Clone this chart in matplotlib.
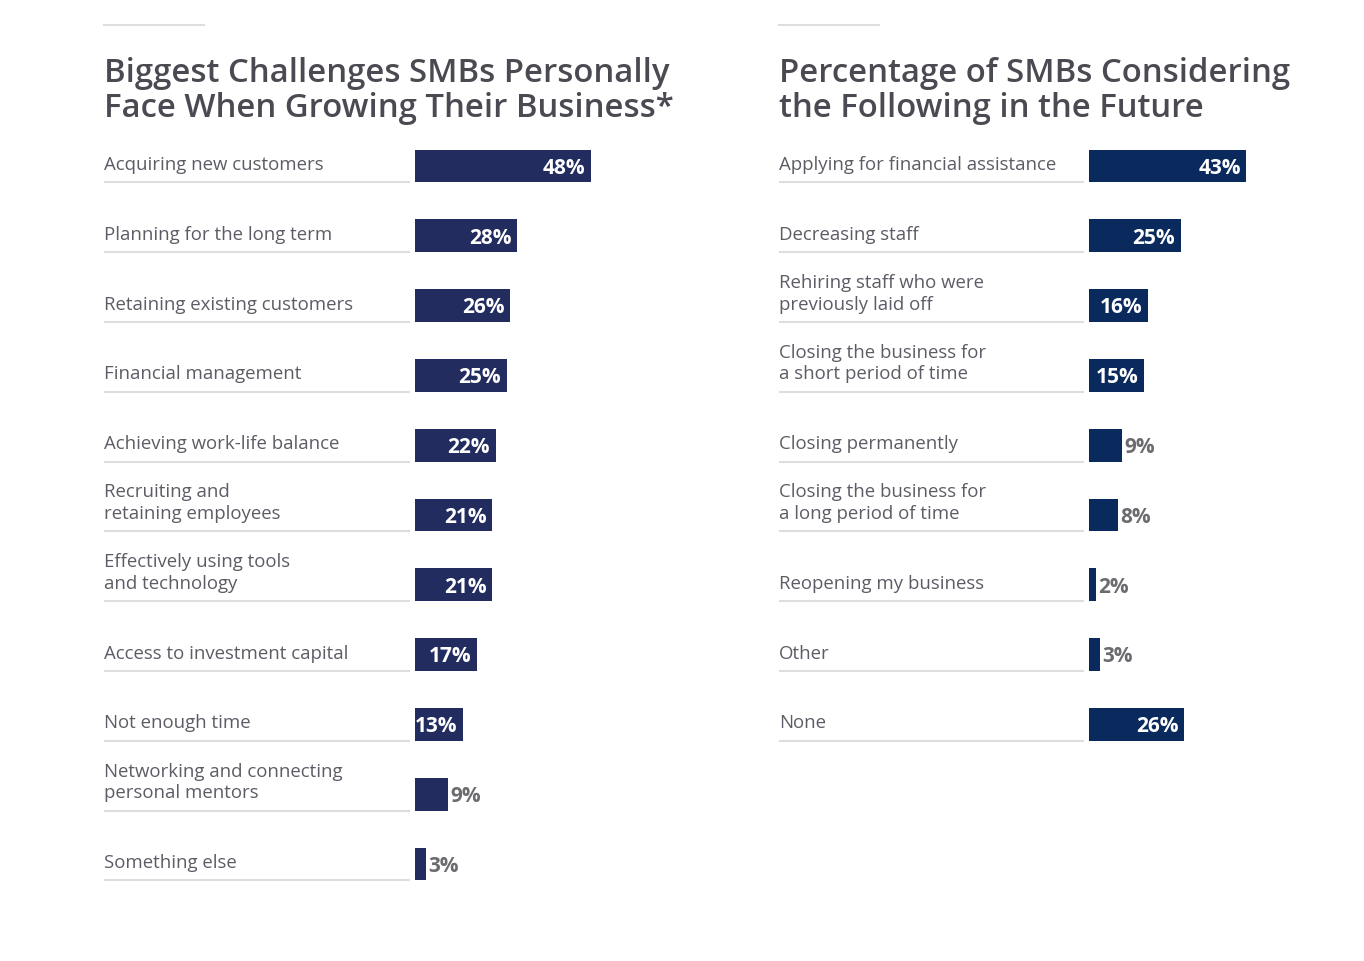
import matplotlib.pyplot as plt
from matplotlib.lines import Line2D

# Data
left_title = "Biggest Challenges SMBs Personally\nFace When Growing Their Business*"
left_labels = [
    "Acquiring new customers",
    "Planning for the long term",
    "Retaining existing customers",
    "Financial management",
    "Achieving work-life balance",
    "Recruiting and\nretaining employees",
    "Effectively using tools\nand technology",
    "Access to investment capital",
    "Not enough time",
    "Networking and connecting\npersonal mentors",
    "Something else",
]
left_values = [48, 28, 26, 25, 22, 21, 21, 17, 13, 9, 3]

right_title = "Percentage of SMBs Considering\nthe Following in the Future"
right_labels = [
    "Applying for financial assistance",
    "Decreasing staff",
    "Rehiring staff who were\npreviously laid off",
    "Closing the business for\na short period of time",
    "Closing permanently",
    "Closing the business for\na long period of time",
    "Reopening my business",
    "Other",
    "None",
]
right_values = [43, 25, 16, 15, 9, 8, 2, 3, 26]

W, H = 1364, 962
PX_PER_PCT = 3.66
ROW_PX = 69.8
FIRST_ROW = 167
TEXT_C = "#5c5c66"
TITLE_C = "#4a4a52"
LINE_C = "#dedede"
FONT = "Open Sans"

fig = plt.figure(figsize=(W / 100, H / 100), dpi=100)


def panel(x_label, x_bar, labels, values, title, color):
    left = x_label / W
    top_px, bot_px = 140, 910
    ax = fig.add_axes([left, 1 - bot_px / H, 1 - left, (bot_px - top_px) / H])
    ax.set_xlim(-(x_bar - x_label) / PX_PER_PCT, (W - x_bar) / PX_PER_PCT)
    ax.set_ylim((bot_px - FIRST_ROW) / ROW_PX, (top_px - FIRST_ROW) / ROW_PX)
    ax.axis("off")
    x0 = -(x_bar - x_label) / PX_PER_PCT
    line_end = -5 / PX_PER_PCT
    ax.barh(range(len(values)), values, height=0.47, color=color, left=0)
    for i, (lab, v) in enumerate(zip(labels, values)):
        ax.text(x0, i + 0.1, lab, ha="left", va="bottom", fontsize=13.4,
                color=TEXT_C, family=FONT, linespacing=1.25)
        ax.plot([x0, line_end], [i + 0.235, i + 0.235], color=LINE_C, lw=1.5,
                solid_capstyle="butt")
        if v >= 13:
            ax.text(v - 1.5, i + 0.02, f"{v}%", ha="right", va="center",
                    fontsize=15, color="white", family=FONT, fontweight="bold")
        else:
            ax.text(v + 0.6, i + 0.02, f"{v}%", ha="left", va="center",
                    fontsize=15, color="#6b6b70", family=FONT, fontweight="bold")
    fig.text(x_label / W, 1 - 57 / H, title, ha="left", va="top", fontsize=23.7,
             color=TITLE_C, family=FONT, fontweight="semibold", linespacing=1.09)
    fig.add_artist(Line2D([x_label / W, (x_label + 100) / W], [1 - 26 / H, 1 - 26 / H],
                          color=LINE_C, lw=1.5))


panel(104, 415, left_labels, left_values, left_title, "#222c5f")
panel(779, 1089, right_labels, right_values, right_title, "#0a2a5e")

fig.savefig("out.png", dpi=100, facecolor="white")
